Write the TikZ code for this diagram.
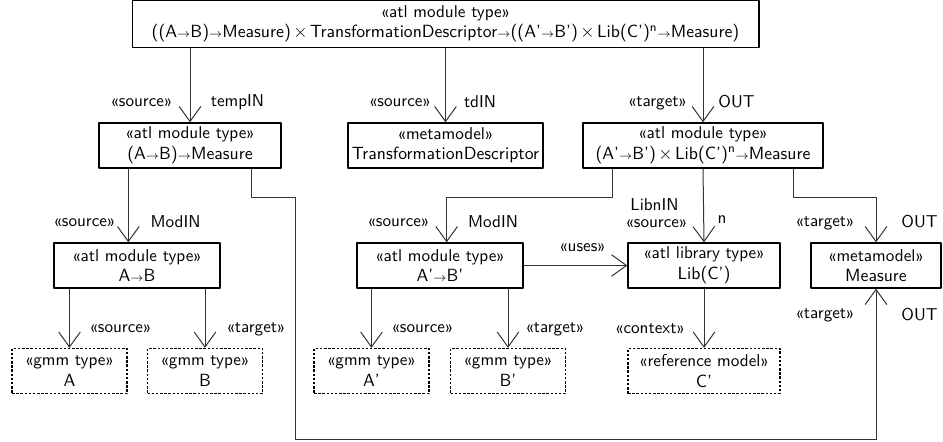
\documentclass[tikz,border=0pt]{standalone}
\usetikzlibrary{arrows.meta}
\newcommand{\tto}{$\scriptstyle\rightarrow$}
\newcommand{\nm}{\fontsize{10.6}{12.3}\selectfont}
\newcommand{\tms}{\kern1.5pt$\times$\kern1.5pt}
\tikzset{
  mbox/.style={draw, line width=0.8pt, align=center, inner sep=1pt, minimum height=27pt},
  gmmbox/.style={mbox, dash pattern=on 1.5pt off 1pt},
  conn/.style={draw=black!80, line width=0.6pt, -{Straight Barb[length=9pt,width=13pt]}},
  lbl/.style={inner sep=0pt}
}
\begin{document}
\begin{tikzpicture}[x=0.6pt, y=-0.6pt, font=\sffamily\fontsize{10.3}{12.3}\selectfont, line join=round]
\useasboundingbox (0,0) rectangle (943,442);
% module types
\node[mbox, minimum width=376pt, minimum height=28pt] (top) at (445.5,24) {«atl module type»\\{\nm((A\tto B)\tto Measure)\tms TransformationDescriptor\tto((A'\tto B')\tms Lib(C')\textsuperscript{n}\tto Measure)}};
\node[mbox, minimum width=109.2pt] (temp) at (190,145.5) {«atl module type»\\{\nm(A\tto B)\tto Measure}};
\node[mbox, minimum width=117pt] (td) at (445.5,145.5) {«metamodel»\\{\nm TransformationDescriptor}};
\node[mbox, minimum width=144pt] (out) at (703,145.5) {«atl module type»\\{\nm(A'\tto B')\tms Lib(C')\textsuperscript{n}\tto Measure}};
\node[mbox, minimum width=99.6pt] (mod) at (137,265.5) {«atl module type»\\{\nm A\tto B}};
\node[mbox, minimum width=99.6pt] (modp) at (440,265.5) {«atl module type»\\{\nm A'\tto B'}};
\node[mbox, minimum width=91.2pt] (lib) at (704,265.5) {«atl library type»\\{\nm Lib(C')}};
\node[mbox, minimum width=78pt] (meas) at (876,265.5) {«metamodel»\\{\nm Measure}};
% gmm types
\node[gmmbox, minimum width=69pt] (a) at (69.5,371) {«gmm type»\\{\nm A}};
\node[gmmbox, minimum width=69pt] (b) at (205,371) {«gmm type»\\{\nm B}};
\node[gmmbox, minimum width=69pt] (ap) at (371.5,371) {«gmm type»\\{\nm A'}};
\node[gmmbox, minimum width=69pt] (bp) at (508,371) {«gmm type»\\{\nm B'}};
\node[gmmbox, minimum width=91.2pt] (cp) at (704,371) {«reference model»\\{\nm C'}};
% connectors
\draw[conn] (temp.north |- top.south) -- (temp.north);
\draw[conn] (td.north |- top.south) -- (td.north);
\draw[conn] (out.north |- top.south) -- (out.north);
\draw[conn] ([xshift=18pt]temp.south west) -- ([xshift=18pt]temp.south west |- mod.north);
\draw[conn] ([xshift=-18pt]temp.south east) -- ++(0,29) -| (295,439) -| (meas.south);
\draw[conn] ([xshift=18pt]out.south west) -- ++(0,29) -| ([xshift=4pt]modp.north);
\draw[conn] (out.south) -- (lib.north);
\draw[conn] ([xshift=-18pt]out.south east) -- ++(0,29) -| (meas.north);
\draw[conn] (a.north |- mod.south) -- (a.north);
\draw[conn] (b.north |- mod.south) -- (b.north);
\draw[conn] (ap.north |- modp.south) -- (ap.north);
\draw[conn] (bp.north |- modp.south) -- (bp.north);
\draw[conn] (lib.south) -- (cp.north);
\draw[conn] (modp.east) -- (lib.west);
% labels
\node[lbl] (s1) at (141.5,103) {«source»};
\node[lbl] (n1) at (237.5,102) {tempIN};
\node[lbl] (s2) at (400,103) {«source»};
\node[lbl] (n2) at (480,102) {tdIN};
\node[lbl] (t1) at (657.5,103) {«target»};
\node[lbl] (n3) at (736.5,102) {OUT};
\node[lbl] (s3) at (84.5,223) {«source»};
\node[lbl] (n4) at (175.5,222) {ModIN};
\node[lbl] (s4) at (398.5,223) {«source»};
\node[lbl] (n5) at (493,222) {ModIN};
\node[lbl] (n6) at (654.5,205) {LibnIN};
\node[lbl] (s5) at (656.5,224) {«source»};
\node[lbl] (n7) at (722,220) {n};
\node[lbl] (t2) at (825,223) {«target»};
\node[lbl] (n8) at (919.5,222) {OUT};
\node[lbl] (u1) at (582.5,248) {«uses»};
\node[lbl] (t3) at (825,315) {«target»};
\node[lbl] (n9) at (919.5,315) {OUT};
\node[lbl] (s6) at (120.5,329) {«source»};
\node[lbl] (t4) at (256,329) {«target»};
\node[lbl] (s7) at (422.5,329) {«source»};
\node[lbl] (t5) at (555,329) {«target»};
\node[lbl] (c1) at (650,329) {«context»};
\end{tikzpicture}
\end{document}
